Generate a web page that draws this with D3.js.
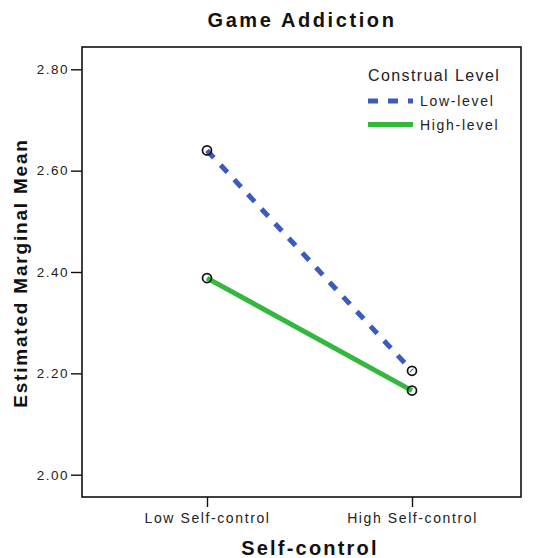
<!DOCTYPE html>
<html><head><meta charset="utf-8">
<script src="https://cdn.jsdelivr.net/npm/d3@7"></script>
<style>body{margin:0;background:#fff}svg{display:block}text{font-family:"Liberation Sans",Arial,sans-serif}</style>
</head><body>
<svg id="c" width="538" height="558"></svg>
<script>
const categories = ["Low Self-control", "High Self-control"];
const seriesNames = ["Low-level", "High-level"];
const lowLevel = [2.64, 2.205];
const highLevel = [2.388, 2.166];
const yTicks = [2.00, 2.20, 2.40, 2.60, 2.80];
const colors = ["#3b5bbf", "#33b83d"];

const svg = d3.select("#c");
const L = 82, R = 521, T = 47, B = 497;
const x = d3.scalePoint().domain(categories).range([207, 412]);
const y = d3.scaleLinear().domain([1.956, 2.844]).range([B, T]);

svg.append("rect").attr("x", L).attr("y", T).attr("width", R - L).attr("height", B - T)
  .attr("fill", "none").attr("stroke", "#111").attr("stroke-width", 1.6);

const ya = svg.append("g").attr("transform", `translate(${L},0)`)
  .call(d3.axisLeft(y).tickValues(yTicks).tickFormat(d3.format(".2f")).tickSize(11).tickPadding(2));
ya.select(".domain").remove();
ya.selectAll("line").attr("stroke", "#111").attr("stroke-width", 1.4);
ya.selectAll("text").attr("font-size", 13.5).attr("letter-spacing", 1.5).attr("fill", "#222");

const xa = svg.append("g").attr("transform", `translate(0,${B})`)
  .call(d3.axisBottom(x).tickSize(10).tickPadding(6));
xa.select(".domain").remove();
xa.selectAll("line").attr("stroke", "#111").attr("stroke-width", 1.4);
xa.selectAll("text").attr("font-size", 14).attr("letter-spacing", 1.6).attr("fill", "#222");

const data = [lowLevel, highLevel];
const line = d3.line().x((d, i) => x(categories[i])).y(d => y(d));
data.forEach((vals, s) => {
  svg.append("path").datum(vals).attr("d", line).attr("fill", "none")
    .attr("stroke", colors[s]).attr("stroke-width", 5)
    .attr("stroke-dasharray", s === 0 ? "10,10" : null);
});
data.forEach(vals => {
  svg.selectAll(null).data(vals).enter().append("circle")
    .attr("cx", (d, i) => x(categories[i])).attr("cy", d => y(d)).attr("r", 4.5)
    .attr("fill", "none").attr("stroke", "#111").attr("stroke-width", 1.7);
});

svg.append("text").attr("x", 302).attr("y", 27).attr("text-anchor", "middle")
  .attr("font-size", 20).attr("font-weight", "bold").attr("letter-spacing", 2.6).attr("fill", "#111").text("Game Addiction");
svg.append("text").attr("x", 310).attr("y", 555).attr("text-anchor", "middle")
  .attr("font-size", 20).attr("font-weight", "bold").attr("letter-spacing", 2.2).attr("fill", "#111").text("Self-control");
svg.append("text").attr("transform", "translate(27,273) rotate(-90)").attr("text-anchor", "middle")
  .attr("font-size", 19).attr("font-weight", "bold").attr("letter-spacing", 1.8).attr("fill", "#111").text("Estimated Marginal Mean");

const lg = svg.append("g");
lg.append("text").attr("x", 368).attr("y", 81).attr("font-size", 16).attr("letter-spacing", 1.4).attr("fill", "#222").text("Construal Level");
seriesNames.forEach((n, i) => {
  const yy = 101 + i * 23.5;
  lg.append("line").attr("x1", 368).attr("x2", 413).attr("y1", yy).attr("y2", yy)
    .attr("stroke", colors[i]).attr("stroke-width", 5)
    .attr("stroke-dasharray", i === 0 ? "10,10" : null);
  lg.append("text").attr("x", 420).attr("y", yy + 5).attr("font-size", 14).attr("letter-spacing", 1.7).attr("fill", "#222").text(n);
});
</script>
</body></html>
